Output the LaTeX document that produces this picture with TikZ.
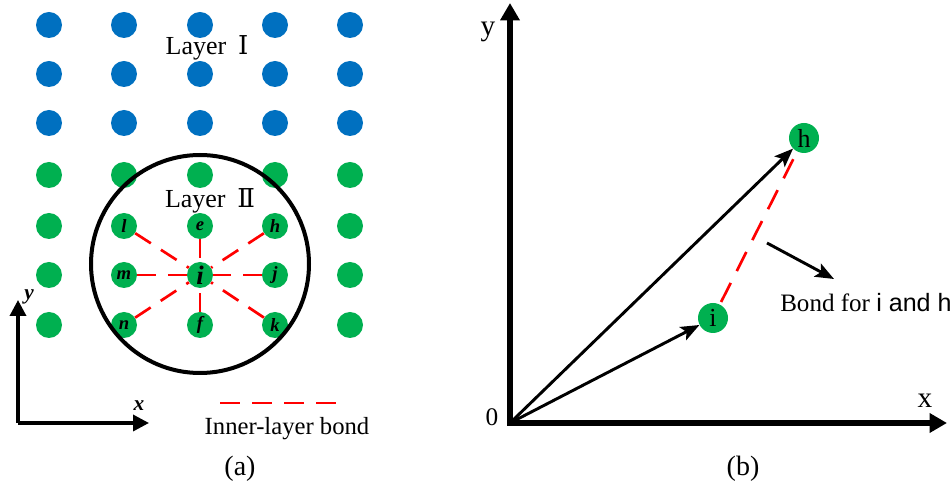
\documentclass[tikz,border=0pt]{standalone}
\usepackage{fontspec}
\setmainfont{Liberation Serif}
\newfontfamily\romf{DejaVu Serif}
\newfontfamily\sansf{Liberation Sans}
\usepackage{tikz}
\usetikzlibrary{arrows.meta,positioning,calc}
\definecolor{cLayerI}{HTML}{0070C0}
\definecolor{cLayerII}{HTML}{00B050}
\definecolor{cBond}{HTML}{FF0000}
\newcommand{\at}[1]{{\bfseries\itshape #1}}
\newcommand{\fs}[1]{\fontsize{#1}{#1}\selectfont}

\begin{document}
\begin{tikzpicture}[
    x=0.75pt, y=-0.75pt,
    font=\fs{18.5},
    dotI/.style={circle, fill=cLayerI, inner sep=0pt, minimum size=19.5pt},
    dotII/.style={circle, fill=cLayerII, inner sep=0pt, minimum size=19.5pt,
                  font=\fs{14}},
    dotb/.style={circle, fill=cLayerII, inner sep=0pt, minimum size=22.5pt,
                 font=\fs{19.5}},
    bond/.style={draw=cBond, line width=2pt, dash pattern=on 14pt off 9pt},
    axisa/.style={line width=2.6pt, -{Triangle[length=12pt,width=12pt]}},
    axisb/.style={line width=4pt, {Triangle[length=13pt,width=14pt]}-{Triangle[length=13pt,width=14pt]}},
    vec/.style={line width=2.2pt, -{Stealth[length=14pt,width=11pt,inset=3pt]}},
  ]
  \useasboundingbox (0,0) rectangle (951,491);
  % (a) lattice
  \foreach \y [count=\r] in {25,74,123} {
    \foreach \x [count=\c] in {49,124,200,275,350}
      \node[dotI] (p\r\c) at (\x,\y) {};
  }
  \foreach \y [count=\r from 4] in {175,226,275,325} {
    \foreach \x [count=\c] in {49,124,200,275,350} {
      \pgfmathtruncatemacro{\inner}{(\r>4)&&(\c>1)&&(\c<5)}
      \ifnum\inner=0 \node[dotII] (p\r\c) at (\x,\y) {}; \fi
    }
  }
  \node[dotII, font=\fs{20}] (i) at (200,275) {\at{i}};
  \node[dotII] (l) at (124,226) {\at{l}};
  \node[dotII] (e) at (200,226) {\at{e}};
  \node[dotII] (h) at (275,226) {\at{h}};
  \node[dotII] (m) at (124,275) {\at{m}};
  \node[dotII] (j) at (275,275) {\at{j}};
  \node[dotII] (n) at (124,325) {\at{n}};
  \node[dotII] (f) at (200,325) {\at{f}};
  \node[dotII] (k) at (275,325) {\at{k}};
  \foreach \nb in {l,e,h,m,j,n,f,k}
    \draw[bond] (\nb) -- (i);
  \draw[line width=3pt] (200,264) circle[radius=109];
  \node[font=\fs{19.5}] (lay1) at (207,48) {Layer\hspace{0.45em}{\romf Ⅰ}};
  \node[font=\fs{19.5}] (lay2) at (210,201) {Layer\hspace{0.45em}{\romf Ⅱ}};
  % (a) axes and legend
  \coordinate (ao) at (18,423);
  \coordinate (ay) at (18,300);
  \coordinate (ax) at (149,423);
  \draw[axisa] (ao) -- (ay);
  \draw[axisa] (ao) -- (ax);
  \node[font=\fs{16}] (ylab) at (29,297) {\at{y}};
  \node[font=\fs{16}] (xlab) at (139,406) {\at{x}};
  \coordinate (lg1) at (220,403);
  \coordinate (lg2) at (336,403);
  \draw[bond, dash pattern=on 15pt off 9pt] (lg1) -- (lg2);
  \node (lgtxt) at (287,429) {Inner-layer bond};
  \node[font=\fs{21}] (capa) at (240,469) {(a)};
  % (b) position vectors
  \coordinate (O) at (510,423);
  \coordinate (by) at (510,3);
  \coordinate (bx) at (947,423);
  \draw[axisb] (by) -- (O) -- (bx);
  \node[font=\fs{19}] (zero) at (492,417) {0};
  \node[font=\fs{22}] (bylab) at (488,32) {y};
  \node[font=\fs{22}] (bxlab) at (925,401) {x};
  \node[dotb] (bi) at (713,318) {i};
  \node[dotb] (bh) at (804,138) {h};
  \draw[vec] (O) -- (bi);
  \draw[vec] (O) -- (bh);
  \draw[bond, dash pattern=on 16pt off 10pt, shorten <=2pt, shorten >=6pt] (bi) -- (bh);
  \coordinate (pt1) at (767,243);
  \coordinate (pt2) at (834,279);
  \draw[vec] (pt1) -- (pt2);
  \node[anchor=west, inner sep=0pt, font=\fs{18.8}] (bondtxt) at (780,303) {Bond for {\sansf i and h}};
  \node[font=\fs{21}] (capb) at (743,469) {(b)};
\end{tikzpicture}
\end{document}
